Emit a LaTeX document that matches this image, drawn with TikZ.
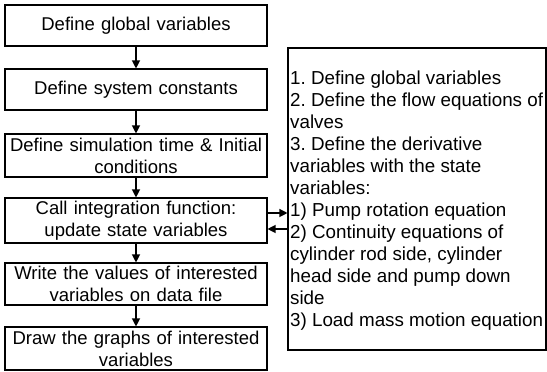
\documentclass[tikz,border=0pt]{standalone}
\usepackage{fontspec}
\setmainfont{Liberation Sans}
\usetikzlibrary{arrows.meta}
\frenchspacing
\begin{document}
\begin{tikzpicture}[x=1pt,y=1pt,
  stepbox/.style={draw,line width=1.1pt,minimum width=262pt,text width=258pt,align=center,inner sep=0pt,
    font=\frenchspacing\fontsize{18.5}{22}\selectfont},
  infobox/.style={draw,line width=1.1pt,minimum width=258pt,minimum height=302pt,inner sep=0pt},
  infotext/.style={align=left,inner sep=0pt,font=\frenchspacing\fontsize{18.8}{22}\selectfont},
  arr/.style={line width=1.2pt,-{Triangle[length=8pt,width=8pt]}}]
\useasboundingbox (0,0) rectangle (547,372);
\node[stepbox,minimum height=41pt] (b1) at (136,346.5) {Define global variables};
\node[stepbox,minimum height=41pt] (b2) at (136,282.5) {Define system constants};
\node[stepbox,minimum height=43pt] (b3) at (136,216.5) {Define simulation time \& Initial\\conditions};
\node[stepbox,minimum height=45pt] (b4) at (136,151.5) {Call integration function:\\update state variables};
\node[stepbox,minimum height=42pt] (b5) at (136,88) {Write the values of interested\\variables on data file};
\node[stepbox,minimum height=43pt] (b6) at (136,23.5) {Draw the graphs of interested\\variables};
\node[infobox] (info) at (417,173) {};
\node[infotext,anchor=west] (infot) at ([xshift=2.5pt,yshift=-2pt]info.west) {1. Define global variables\\2. Define the flow equations of\\valves\\3. Define the derivative\\variables with the state\\variables:\\1) Pump rotation equation\\2) Continuity equations of\\cylinder rod side, cylinder\\head side and pump down\\side\\3) Load mass motion equation};
\draw[arr] (b1) -- (b2);
\draw[arr] (b2) -- (b3);
\draw[arr] (b3) -- (b4);
\draw[arr] (b4) -- (b5);
\draw[arr] (b5) -- (b6);
\draw[arr] ([yshift=7.5pt]b4.east) -- ([yshift=7.5pt]b4.east -| info.west);
\draw[arr] ([yshift=-8.5pt]b4.east -| info.west) -- ([yshift=-8.5pt]b4.east);
\end{tikzpicture}
\end{document}
